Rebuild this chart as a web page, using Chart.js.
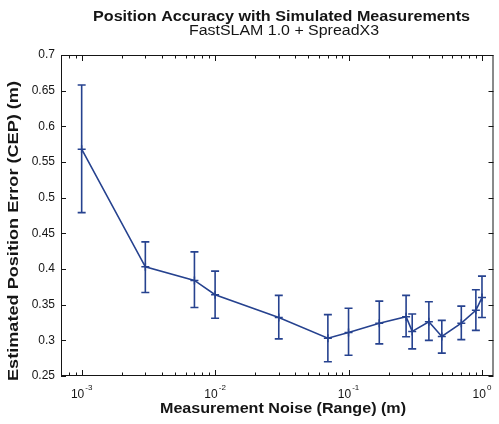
<!DOCTYPE html>
<html>
<head>
<meta charset="utf-8">
<script src="https://cdn.jsdelivr.net/npm/chart.js@4.4.1/dist/chart.umd.min.js"></script>
<style>
  html, body { margin: 0; padding: 0; background: #fff; }
  canvas { display: block; }
</style>
</head>
<body>
<canvas id="c" width="499" height="424"></canvas>
<script>
// Measurement noise (range, m) and CEP statistics per run
const noise = [0.001, 0.003, 0.007, 0.01, 0.03, 0.07, 0.1, 0.17, 0.27, 0.3, 0.4, 0.5, 0.7, 0.9, 1.0];
const cep   = [0.568, 0.403, 0.384, 0.364, 0.332, 0.303, 0.311, 0.324, 0.333, 0.3125, 0.326, 0.3055, 0.324, 0.342, 0.360];
const upper = [0.658, 0.438, 0.424, 0.397, 0.363, 0.336, 0.345, 0.355, 0.363, 0.337, 0.354, 0.328, 0.348, 0.371, 0.390];
const lower = [0.479, 0.367, 0.346, 0.331, 0.302, 0.270, 0.279, 0.295, 0.305, 0.288, 0.300, 0.282, 0.301, 0.314, 0.332];

// Axis tick labels
const yTicks = [0.25, 0.3, 0.35, 0.4, 0.45, 0.5, 0.55, 0.6, 0.65, 0.7];
const yTickLabels = ['0.25', '0.3', '0.35', '0.4', '0.45', '0.5', '0.55', '0.6', '0.65', '0.7'];
const xDecades = [-3, -2, -1, 0];

const titleText = 'Position Accuracy with Simulated Measurements';
const subtitleText = 'FastSLAM 1.0 + SpreadX3';
const xTitle = 'Measurement Noise (Range) (m)';
const yTitle = 'Estimated Position Error (CEP) (m)';

const LINE = '#26428f';
const INK = '#151515';
const FONT = '"Liberation Sans", Arial, Helvetica, sans-serif';

// Draw text centred at (cx, cy), stretched along its baseline to a given width
function wideText(ctx, text, cx, cy, width, font, angle) {
  ctx.save();
  ctx.font = font;
  ctx.textAlign = 'center';
  ctx.textBaseline = 'middle';
  const w = ctx.measureText(text).width;
  ctx.translate(cx, cy);
  if (angle) ctx.rotate(angle);
  ctx.scale(width / w, 1);
  ctx.fillText(text, 0, 0);
  ctx.restore();
}

// Error bars with caps, drawn under the mean line
const errorBars = {
  id: 'errorBars',
  beforeDatasetsDraw(chart) {
    const { ctx, scales: { x, y } } = chart;
    ctx.save();
    ctx.strokeStyle = LINE;
    ctx.lineWidth = 1.6;
    const cap = 4;
    noise.forEach((n, i) => {
      const px = x.getPixelForValue(n);
      const pTop = y.getPixelForValue(upper[i]);
      const pBot = y.getPixelForValue(lower[i]);
      ctx.beginPath();
      ctx.moveTo(px, pTop); ctx.lineTo(px, pBot);
      ctx.moveTo(px - cap, pTop); ctx.lineTo(px + cap, pTop);
      ctx.moveTo(px - cap, pBot); ctx.lineTo(px + cap, pBot);
      ctx.stroke();
    });
    ctx.restore();
  }
};

// Boxed axes with inward ticks, log minor ticks, labels and titles
const boxAxes = {
  id: 'boxAxes',
  afterDraw(chart) {
    const { ctx, chartArea: a, scales: { x, y } } = chart;
    ctx.save();
    ctx.strokeStyle = INK;
    ctx.lineWidth = 1;
    ctx.strokeRect(a.left + 0.5, a.top + 0.5, a.right - a.left - 1, a.bottom - a.top - 1);

    ctx.beginPath();
    // y ticks on both sides
    yTicks.forEach(v => {
      const py = Math.round(y.getPixelForValue(v)) + 0.5;
      ctx.moveTo(a.left, py); ctx.lineTo(a.left + 5, py);
      ctx.moveTo(a.right, py); ctx.lineTo(a.right - 5, py);
    });
    // x major and minor ticks on top and bottom
    for (let d = -4; d <= 0; d++) {
      for (let m = 1; m <= 9; m++) {
        const v = m * Math.pow(10, d);
        if (v < x.min || v > x.max) continue;
        const px = Math.round(x.getPixelForValue(v)) + 0.5;
        const len = m === 1 ? 6 : 3.5;
        ctx.moveTo(px, a.bottom); ctx.lineTo(px, a.bottom - len);
        ctx.moveTo(px, a.top); ctx.lineTo(px, a.top + len);
      }
    }
    ctx.stroke();

    ctx.fillStyle = INK;
    // y tick labels
    ctx.font = '12px ' + FONT;
    ctx.textAlign = 'right';
    ctx.textBaseline = 'middle';
    yTicks.forEach((v, i) => {
      ctx.fillText(yTickLabels[i], a.left - 6, y.getPixelForValue(v));
    });

    // x tick labels: 10 with superscript exponent
    xDecades.forEach(d => {
      const px = x.getPixelForValue(Math.pow(10, d));
      const base = '10', exp = String(d);
      ctx.font = '12px ' + FONT;
      const wb = ctx.measureText(base).width;
      ctx.font = '8px ' + FONT;
      const we = ctx.measureText(exp).width;
      const start = px - (wb + we + 1) / 2;
      ctx.textAlign = 'left';
      ctx.textBaseline = 'alphabetic';
      ctx.font = '12px ' + FONT;
      ctx.fillText(base, start, 398);
      ctx.font = '8px ' + FONT;
      ctx.fillText(exp, start + wb + 1, 390);
    });

    // titles
    wideText(ctx, titleText, 281.5, 17, 377, 'bold 14px ' + FONT);
    wideText(ctx, subtitleText, 284, 31.5, 190, '14px ' + FONT);
    wideText(ctx, xTitle, 283, 409, 246, 'bold 14px ' + FONT);
    wideText(ctx, yTitle, 14, 231, 300, 'bold 14px ' + FONT, -Math.PI / 2);
    ctx.restore();
  }
};

new Chart(document.getElementById('c'), {
  type: 'line',
  data: {
    datasets: [{
      data: noise.map((n, i) => ({ x: n, y: cep[i] })),
      borderColor: LINE,
      backgroundColor: LINE,
      borderWidth: 1.6,
      pointStyle: 'cross',
      pointRadius: 4,
      pointBorderWidth: 1.5,
      tension: 0,
      fill: false
    }]
  },
  options: {
    responsive: false,
    animation: false,
    events: [],
    layout: { padding: { left: 61, right: 1, top: 55, bottom: 48 } },
    plugins: { legend: { display: false }, tooltip: { enabled: false } },
    scales: {
      x: { type: 'logarithmic', min: 7e-4, max: 1.22, display: false },
      y: { type: 'linear', min: 0.25, max: 0.7, display: false }
    }
  },
  plugins: [errorBars, boxAxes]
});
</script>
</body>
</html>
